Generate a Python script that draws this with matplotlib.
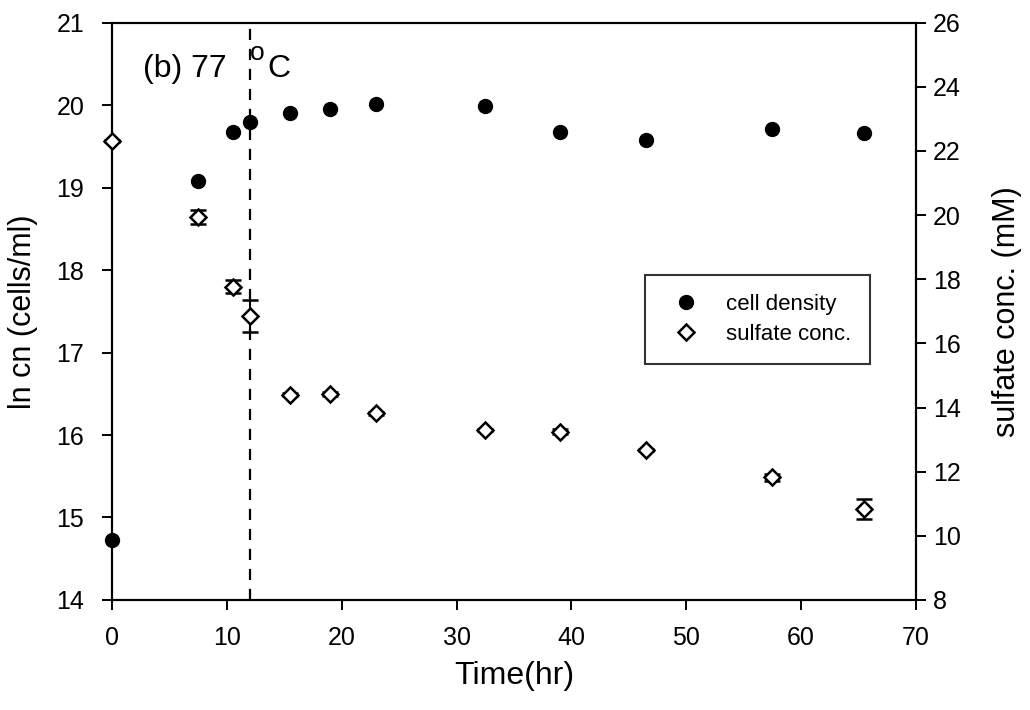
import numpy as np
import matplotlib.pyplot as plt

plt.rcParams['font.family'] = ['Liberation Sans', 'DejaVu Sans']

# cell density (ln cn, left axis)
t_cell = [0, 7.5, 10.5, 12, 15.5, 19, 23, 32.5, 39, 46.5, 57.5, 65.5]
ln_cn = [14.73, 19.08, 19.68, 19.79, 19.91, 19.95, 20.02, 19.99, 19.67, 19.58, 19.71, 19.66]

# sulfate concentration (mM, right axis)
t_sulf = [0, 7.5, 10.5, 12, 15.5, 19, 23, 32.5, 39, 46.5, 57.5, 65.5]
sulfate = [22.31, 19.95, 17.77, 16.85, 14.40, 14.42, 13.82, 13.30, 13.25, 12.68, 11.82, 10.83]
sulf_err = [0.03, 0.22, 0.2, 0.5, 0.04, 0.06, 0.04, 0.04, 0.08, 0.03, 0.1, 0.31]

t_shift = 12  # temperature shift marker

fig = plt.figure(figsize=(10.3, 7.1), dpi=100)
ax = fig.add_axes([0.1087, 0.155, 0.7806, 0.813])
ax2 = ax.twinx()

h1, = ax.plot(t_cell, ln_cn, 'o', color='black', ms=10, label='cell density',
              zorder=3, clip_on=False)
ax.axvline(t_shift, color='black', ls=(0, (5, 4)), lw=1.6)

eb = ax2.errorbar(t_sulf, sulfate, yerr=sulf_err, fmt='D', ms=8.5, mfc='white',
                  mec='black', mew=1.8, ecolor='black', elinewidth=1.5,
                  capsize=5.5, capthick=1.5, label='sulfate conc.', zorder=3,
                  clip_on=False)

ax.set_xlim(0, 70)
ax.set_ylim(14, 21)
ax2.set_ylim(8, 26)
ax.set_xticks(np.arange(0, 71, 10))
ax.set_yticks(np.arange(14, 22, 1))
ax2.set_yticks(np.arange(8, 27, 2))

for a in (ax, ax2):
    for s in a.spines.values():
        s.set_linewidth(1.5)
    a.tick_params(direction='out', length=7, width=1.4, labelsize=18)
ax.tick_params(axis='y', pad=13)
ax.tick_params(axis='x', pad=11.5)
ax2.tick_params(axis='y', pad=5)

ax.set_xlabel('Time(hr)', fontsize=23)
ax.set_ylabel('ln cn (cells/ml)', fontsize=22)
ax2.set_ylabel('sulfate conc. (mM)', fontsize=22)
ax.xaxis.set_label_coords(0.5, -0.105)
ax.yaxis.set_label_coords(-0.092, 0.5)
ax2.yaxis.set_label_coords(1.094, 0.5)

ax.text(0.038, 0.906, '(b) 77 ', transform=ax.transAxes, fontsize=23, va='baseline')
ax.text(0.172, 0.935, 'o', transform=ax.transAxes, fontsize=19, va='baseline')
ax.text(0.193, 0.906, 'C', transform=ax.transAxes, fontsize=23, va='baseline')

leg = ax2.legend([h1, eb[0]], ['cell density', 'sulfate conc.'],
                 loc='upper left', bbox_to_anchor=(0.663, 0.563), borderaxespad=0,
                 fontsize=16, frameon=True, fancybox=False, edgecolor='black',
                 handletextpad=0.8, borderpad=0.85, labelspacing=0.4, handlelength=2.0)
leg.get_frame().set_linewidth(1.5)

fig.savefig('out.png', dpi=100)
